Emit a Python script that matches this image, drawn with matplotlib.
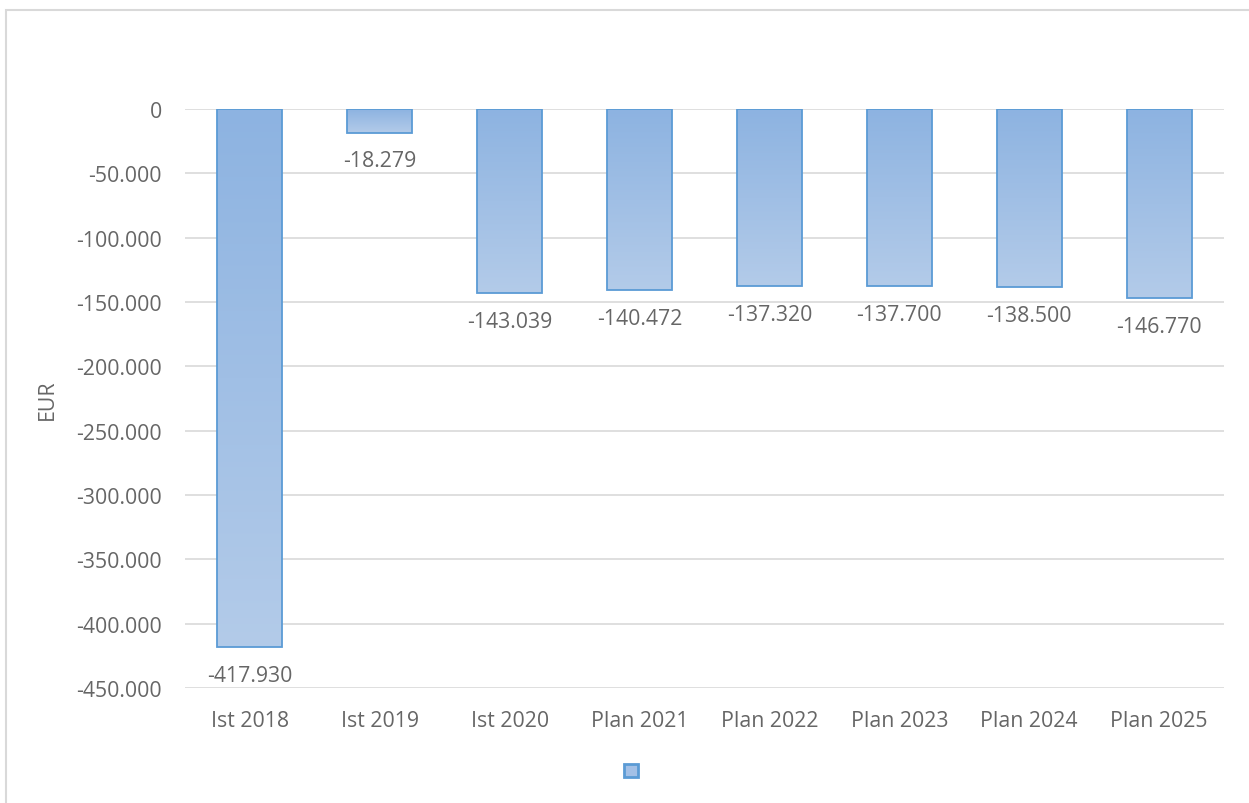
import numpy as np
import matplotlib.pyplot as plt
from matplotlib.colors import LinearSegmentedColormap
from matplotlib.patches import Rectangle, Patch

plt.rcParams['font.family'] = ['Open Sans', 'DejaVu Sans']

jahre = ['Ist 2018', 'Ist 2019', 'Ist 2020', 'Plan 2021', 'Plan 2022',
         'Plan 2023', 'Plan 2024', 'Plan 2025']
werte = [-417930, -18279, -143039, -140472, -137320, -137700, -138500, -146770]

grau = '#666666'
rand = '#5b9bd5'
verlauf = LinearSegmentedColormap.from_list('verlauf', ['#b3cbe9', '#8db3e1'])
fs = 15.3


def de_zahl(v):
    return f'{v:,.0f}'.replace(',', '.')


fig = plt.figure(figsize=(12.49, 8.04), dpi=100)
ax = fig.add_axes([0.1481, 0.1430, 0.8319, 0.7202])

x = np.arange(len(jahre))
bars = ax.bar(x, werte, width=0.5, color='none', edgecolor=rand,
              linewidth=1.3, zorder=3)

# Farbverlauf in jedem Balken
grad = np.linspace(0, 1, 256).reshape(-1, 1)
for b in bars:
    x0, y0 = b.get_x(), b.get_y()
    w, h = b.get_width(), b.get_height()
    im = ax.imshow(grad, cmap=verlauf, aspect='auto', origin='lower',
                   extent=[x0, x0 + w, y0 + h, y0], zorder=2)
    im.set_clip_path(b)

for xi, v in zip(x, werte):
    ax.annotate(de_zahl(v), (xi, v), xytext=(0, -20.5), textcoords='offset points',
                ha='center', va='center', fontsize=fs, color=grau)

ax.set_xlim(-0.5, len(jahre) - 0.5)
ax.set_ylim(-450000, 0)
ax.set_yticks(np.arange(-450000, 1, 50000))
ax.set_yticklabels([de_zahl(t) for t in np.arange(-450000, 1, 50000)])
ax.set_xticks(x)
ax.set_xticklabels(jahre)
ax.tick_params(axis='y', length=0, pad=16.5, labelsize=fs, labelcolor=grau)
ax.tick_params(axis='x', length=0, pad=16, labelsize=fs, labelcolor=grau)
ax.yaxis.grid(True, color='#d9d9d9', linewidth=1.2, zorder=0)
ax.set_axisbelow(True)
for s in ax.spines.values():
    s.set_visible(False)
ax.set_ylabel('EUR', fontsize=fs, color=grau)
ax.yaxis.set_label_coords(-0.122, 0.5)

# Legende ohne Text
handle = Patch(facecolor='#a3c0e6', edgecolor=rand, linewidth=2)
fig.legend([handle], [''], loc='center', bbox_to_anchor=(0.505, 0.0386),
           frameon=False, handlelength=1.0, handleheight=1.0,
           handletextpad=0, borderpad=0)

# Rahmen um das Diagramm
fig.patches.append(Rectangle((6 / 1249, -0.1), 1.2, 1.1 - 11 / 804,
                             transform=fig.transFigure, fill=False,
                             edgecolor='#d9d9d9', linewidth=1.5))

fig.savefig('out.png', dpi=100)
